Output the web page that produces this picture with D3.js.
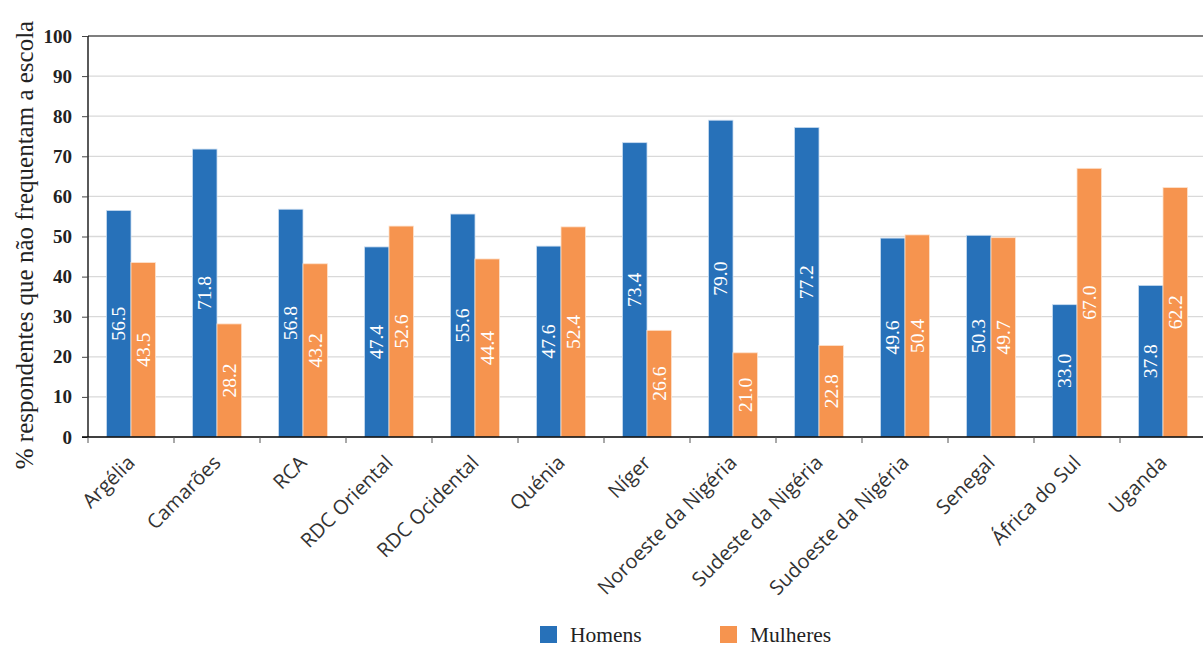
<!DOCTYPE html>
<html>
<head>
<meta charset="utf-8">
<script src="https://cdn.jsdelivr.net/npm/d3@7"></script>
<style>
  html, body { margin: 0; padding: 0; background: #fff; }
  svg { display: block; }
</style>
</head>
<body>
<svg id="chart" width="1203" height="646"></svg>
<script>
// Regions surveyed
const categories = ["Argélia", "Camarões", "RCA", "RDC Oriental", "RDC Ocidental", "Quénia", "Níger",
  "Noroeste da Nigéria", "Sudeste da Nigéria", "Sudoeste da Nigéria", "Senegal", "África do Sul", "Uganda"];
// % of out-of-school respondents by sex
const homens   = [56.5, 71.8, 56.8, 47.4, 55.6, 47.6, 73.4, 79.0, 77.2, 49.6, 50.3, 33.0, 37.8];
const mulheres = [43.5, 28.2, 43.2, 52.6, 44.4, 52.4, 26.6, 21.0, 22.8, 50.4, 49.7, 67.0, 62.2];
const yTicks = [0, 10, 20, 30, 40, 50, 60, 70, 80, 90, 100];
const seriesNames = ["Homens", "Mulheres"];
const seriesColors = ["#2771b9", "#f6944f"];

const svg = d3.select("#chart");
const plotLeft = 88, plotTop = 36, plotBottom = 437, plotRight = 1206;
const serif = "'Liberation Serif', 'Times New Roman', serif";

const x0 = d3.scaleBand().domain(categories).range([plotLeft, plotRight]).padding(0);
const x1 = d3.scaleBand().domain(seriesNames).range([18.5, 67.5]).padding(0);
const y = d3.scaleLinear().domain([0, 100]).range([plotBottom, plotTop]);

// gridlines
svg.append("g").selectAll("line").data(yTicks.filter(d => d > 0)).join("line")
  .attr("x1", plotLeft).attr("x2", plotRight)
  .attr("y1", d => y(d)).attr("y2", d => y(d))
  .attr("stroke", d => d === 100 ? "#555" : "#d9d9d9").attr("stroke-width", 1.3);

// bars
const data = categories.map((c, i) => ({ c, vals: [homens[i], mulheres[i]] }));
const groups = svg.append("g").selectAll("g").data(data).join("g")
  .attr("transform", d => `translate(${x0(d.c)},0)`);

groups.selectAll("rect").data(d => d.vals.map((v, k) => ({ v, k }))).join("rect")
  .attr("x", d => x1(seriesNames[d.k]))
  .attr("y", d => y(d.v))
  .attr("width", x1.bandwidth())
  .attr("height", d => y(0) - y(d.v))
  .attr("fill", d => seriesColors[d.k])
  .attr("stroke", d => d.k === 0 ? "#c9dcf0" : "#fde1cc")
  .attr("stroke-width", 0.8);

// value labels, rotated, centred in each bar
groups.selectAll("text.val").data(d => d.vals.map((v, k) => ({ v, k }))).join("text")
  .attr("class", "val")
  .attr("transform", d => `translate(${x1(seriesNames[d.k]) + x1.bandwidth() / 2 + 6.5},${(y(d.v) + y(0)) / 2}) rotate(-90)`)
  .attr("text-anchor", "middle")
  .attr("fill", "#fff")
  .style("font-family", serif)
  .style("font-size", "19.5px")
  .text(d => d.v.toFixed(1));

// y axis
const yAxis = d3.axisLeft(y).tickValues(yTicks).tickSize(6).tickPadding(10).tickFormat(d3.format("d"));
const gy = svg.append("g").attr("transform", `translate(${plotLeft},0)`).call(yAxis);
gy.select(".domain").attr("stroke", "#000").attr("stroke-width", 1.3).attr("d", `M0,${plotTop}V${plotBottom}`);
gy.selectAll(".tick line").attr("stroke", "#444");
gy.selectAll(".tick text")
  .style("font-family", serif)
  .style("font-weight", "bold").style("font-size", "19px").attr("fill", "#222");

// x axis baseline and boundary ticks
svg.append("line").attr("x1", plotLeft - 6).attr("x2", plotRight).attr("y1", plotBottom).attr("y2", plotBottom)
  .attr("stroke", "#000").attr("stroke-width", 1.3);
svg.append("g").selectAll("line").data(categories).join("line")
  .attr("x1", d => x0(d)).attr("x2", d => x0(d))
  .attr("y1", plotBottom).attr("y2", plotBottom + 6)
  .attr("stroke", "#555").attr("stroke-width", 1);

// category labels
svg.append("g").selectAll("text").data(categories).join("text")
  .attr("transform", d => `translate(${x0(d) + x0.bandwidth() / 2 + 5},${plotBottom + 27}) rotate(-45)`)
  .attr("text-anchor", "end")
  .style("font-family", "'Open Sans', 'Noto Sans', sans-serif")
  .style("font-size", "20px")
  .attr("fill", "#333")
  .text(d => d);

// y axis title
svg.append("text")
  .attr("transform", `translate(33,245) rotate(-90)`)
  .attr("text-anchor", "middle")
  .style("font-family", serif)
  .style("font-size", "25px")
  .attr("fill", "#222")
  .text("% respondentes que não frequentam a escola");

// legend
const legend = svg.append("g").selectAll("g").data(seriesNames).join("g")
  .attr("transform", (d, i) => `translate(${540 + i * 180},626)`);
legend.append("rect").attr("width", 17).attr("height", 17).attr("fill", (d, i) => seriesColors[i]);
legend.append("text").attr("x", 30).attr("y", 15.5)
  .style("font-family", serif)
  .style("font-size", "21.5px").attr("fill", "#222")
  .text(d => d);
</script>
</body>
</html>
